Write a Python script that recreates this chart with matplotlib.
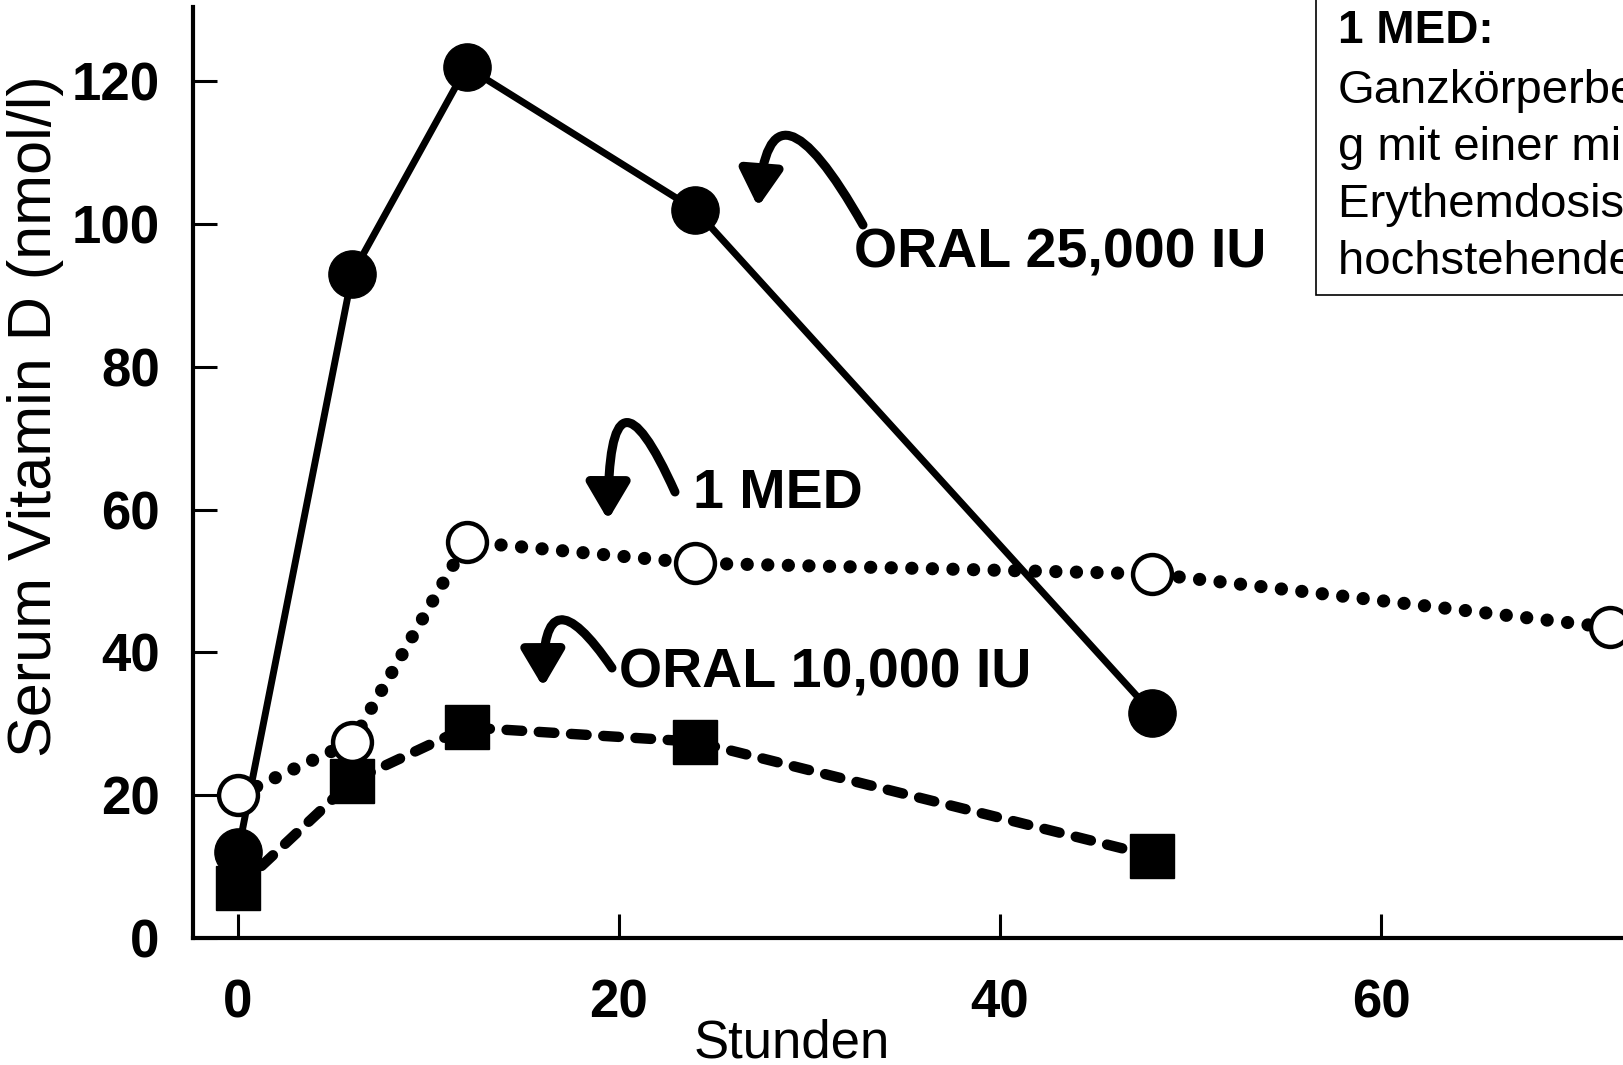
import numpy as np
import matplotlib
matplotlib.use('Agg')
import matplotlib.pyplot as plt
from matplotlib.path import Path
from matplotlib.patches import FancyArrowPatch, Rectangle
from matplotlib.transforms import Affine2D

plt.rcParams['font.family'] = ['Liberation Sans', 'DejaVu Sans']

# Serum vitamin D after oral doses vs. one minimal erythema dose
hours_25k = [0, 6, 12, 24, 48]
vitd_25k = [12, 93, 122, 102, 31.5]

hours_med = [0, 6, 12, 24, 48, 72]
vitd_med = [20, 27.5, 55.5, 52.5, 51, 43.5]

hours_10k = [0, 6, 12, 24, 48]
vitd_10k = [7, 22, 29.5, 27.5, 11.5]

x_ticks = [0, 20, 40, 60]
y_ticks = [0, 20, 40, 60, 80, 100, 120]

box_title = '1 MED:'
box_lines = ['Ganzkörperbestrahlun', 'g mit einer minimalen',
             'Erythemdosis bei', 'hochstehender Sonne']

W, H = 1623, 1065
fig = plt.figure(figsize=(W / 100, H / 100), dpi=100)
# image-pixel transform (origin top left) for the loose annotations
px = Affine2D().scale(1 / W, -1 / H).translate(0, 1) + fig.transFigure

ax = fig.add_axes([193 / W, (H - 938) / H, (W - 193) / W, (938 - 7) / H])
ax.set_xlim(-2.36, 72.7)
ax.set_ylim(0, 130.4)

for s in ['top', 'right']:
    ax.spines[s].set_visible(False)
for s in ['left', 'bottom']:
    ax.spines[s].set_linewidth(3)

ax.set_xticks(x_ticks)
ax.set_yticks(y_ticks)
ax.tick_params(direction='in', length=17, width=2.2)
ax.tick_params(axis='y', pad=24)
ax.tick_params(axis='x', pad=29)
for lab in ax.get_xticklabels() + ax.get_yticklabels():
    lab.set_fontsize(38)
    lab.set_fontweight('bold')

# oral 10,000 IU - dashed, filled squares
ax.plot(hours_10k, vitd_10k, color='black', lw=7.5, ls=(0, (1.5, 1.6)),
        dash_capstyle='round', marker='s', ms=31, mfc='black', mec='black',
        clip_on=False, zorder=3)
# 1 MED - dotted, open circles
ax.plot(hours_med, vitd_med, color='black', lw=9.5, ls=(0, (0.01, 1.55)),
        dash_capstyle='round', zorder=4, clip_on=False)
ax.plot(hours_med, vitd_med, ls='none', marker='o', ms=28, mfc='white',
        mec='black', mew=3.2, clip_on=False, zorder=6)
# oral 25,000 IU - solid, filled circles
ax.plot(hours_25k, vitd_25k, color='black', lw=5, marker='o', ms=34,
        mfc='black', mec='black', clip_on=False, zorder=5)

# curved arrows pointing at the curves
arrows = [((863, 225), (790, 138), (758, 207)),
          ((675, 492), (625, 425), (608, 520)),
          ((612, 668), (560, 622), (543, 687))]
for tail, peak, tip in arrows:
    tail, peak, tip = np.array(tail), np.array(peak), np.array(tip)
    ctrl = 2 * peak - (tail + tip) / 2
    path = Path([tail, ctrl, tip], [Path.MOVETO, Path.CURVE3, Path.CURVE3])
    arr = FancyArrowPatch(path=path, arrowstyle='-|>,head_length=1.1,head_width=0.65',
                          mutation_scale=20, lw=6.5, color='black', transform=px,
                          capstyle='round')
    fig.patches.append(arr)

label_kw = dict(fontsize=40, fontweight='bold', va='center', ha='left', transform=px)
fig.text(854, 254, 'ORAL 25,000 IU', **label_kw)
fig.text(693, 494, '1 MED', **label_kw)
fig.text(619, 673, 'ORAL 10,000 IU', **label_kw)

fig.text(36, 416, 'Serum Vitamin D (nmol/l)', fontsize=44, rotation=90,
         ha='center', va='center', transform=px)
fig.text(792, 1043, 'Stunden', fontsize=38, ha='center', va='center', transform=px)

# explanation box in the upper right corner
box = Rectangle((1316, -10), 500, 305, fill=False, lw=1.2, ec='black',
                transform=px)
fig.patches.append(box)
fig.text(1338, 31, box_title, fontsize=33, fontweight='bold', va='center',
         ha='left', transform=px)
for i, line in enumerate(box_lines):
    fig.text(1338, 91 + i * 57, line, fontsize=34, va='center', ha='left',
             transform=px)

fig.savefig('out.png', dpi=100)
